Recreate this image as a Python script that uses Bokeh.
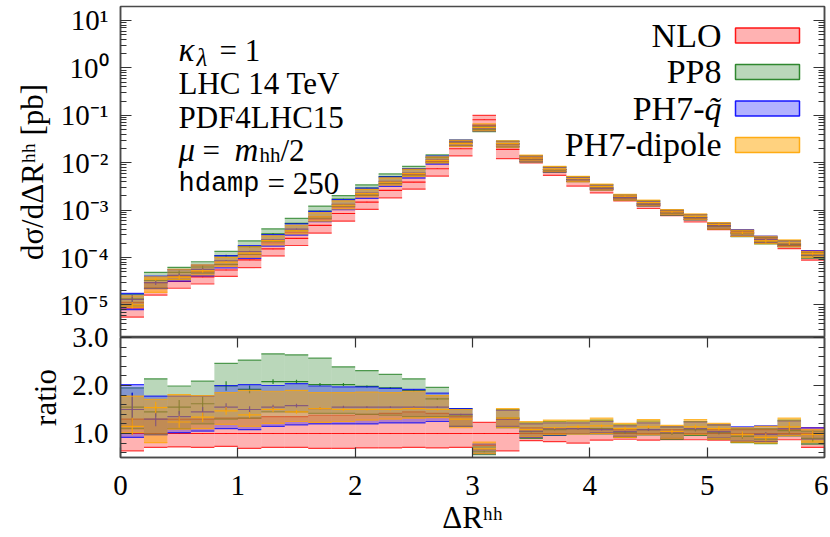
import numpy as np
from bokeh.plotting import figure
from bokeh.layouts import column
from bokeh.models import (LogAxis, LinearAxis, FixedTicker, CustomJSTickFormatter,
                          PrintfTickFormatter, Label, ColumnDataSource, Range1d, BoxAnnotation)
from bokeh.embed import file_html
from bokeh.resources import INLINE

# ---------------- data ----------------
bin_edges = [0.0, 0.2, 0.4, 0.6, 0.8, 1.0, 1.2, 1.4, 1.6, 1.8, 2.0, 2.2, 2.4, 2.6, 2.8, 3.0,
             3.2, 3.4, 3.6, 3.8, 4.0, 4.2, 4.4, 4.6, 4.8, 5.0, 5.2, 5.4, 5.6, 5.8, 6.0]

# NLO central value dsigma/dDeltaR [pb]
nlo_central = [8.7e-6, 2.28e-5, 3.13e-5, 3.9e-5, 5.47e-5, 8.9e-5, 1.52e-4, 2.53e-4, 4.75e-4, 8.5e-4,
               1.48e-3, 2.6e-3, 3.9e-3, 7.46e-3, 1.97e-2, 8.07e-2, 1.91e-2, 1.16e-2, 6.55e-3, 4.03e-3,
               2.69e-3, 1.79e-3, 1.26e-3, 8.8e-4, 6.46e-4, 4.53e-4, 3.39e-4, 2.45e-4, 1.78e-4, 1.24e-4]
nlo_lo = [0.64, 0.71, 0.72, 0.71, 0.73, 0.69, 0.71, 0.71, 0.69, 0.69, 0.70, 0.70, 0.71, 0.70, 0.71,
          0.75, 0.64, 0.85, 0.83, 0.80, 0.86, 0.88, 0.86, 0.87, 0.87, 0.86, 0.82, 0.83, 0.87, 0.71]
nlo_hi = [1.30, 1.30, 1.30, 1.30, 1.32, 1.32, 1.35, 1.35, 1.38, 1.38, 1.40, 1.42, 1.45, 1.42, 1.35,
          1.23, 1.30, 1.12, 1.10, 1.10, 1.10, 1.08, 1.08, 1.08, 1.08, 1.08, 1.08, 1.08, 1.08, 1.12]
nlo_err = [0.02, 0.01, 0.01, 0.01, 0.01, 0.01, 0.01, 0.01, 0.01, 0.01, 0.01, 0.01, 0.01, 0.01, 0.01,
           0.01, 0.01, 0.01, 0.01, 0.01, 0.01, 0.01, 0.01, 0.01, 0.01, 0.01, 0.01, 0.01, 0.01, 0.01]

# ratios to NLO central
pp8_c = [1.55, 1.45, 1.55, 1.62, 1.99, 1.92, 2.08, 2.08, 2.02, 2.02, 1.98, 1.95, 1.90, 1.72, 1.38,
         0.62, 1.32, 1.04, 1.08, 1.10, 1.10, 1.02, 1.08, 1.00, 1.08, 1.02, 0.94, 0.88, 1.06, 0.90]
pp8_lo = [1.10, 0.98, 1.10, 1.20, 1.30, 1.32, 1.45, 1.45, 1.42, 1.42, 1.40, 1.38, 1.35, 1.35, 1.15,
          0.56, 1.12, 0.90, 0.96, 0.99, 0.99, 0.92, 0.97, 0.88, 0.96, 0.89, 0.81, 0.79, 0.95, 0.78]
pp8_hi = [1.95, 2.14, 1.99, 2.09, 2.46, 2.53, 2.66, 2.64, 2.57, 2.39, 2.31, 2.23, 2.14, 1.96, 1.52,
          0.72, 1.50, 1.22, 1.25, 1.26, 1.28, 1.18, 1.26, 1.14, 1.25, 1.18, 1.10, 1.10, 1.28, 1.05]
pp8_err = [0.30, 0.10, 0.15, 0.15, 0.10, 0.08, 0.05, 0.04, 0.03, 0.03, 0.02, 0.02, 0.02, 0.02, 0.01,
           0.01, 0.01, 0.02, 0.02, 0.02, 0.02, 0.03, 0.03, 0.03, 0.04, 0.04, 0.05, 0.05, 0.06, 0.07]

ph7q_c = [1.50, 1.30, 1.35, 1.45, 1.55, 1.50, 1.55, 1.58, 1.52, 1.55, 1.55, 1.55, 1.55, 1.55, 1.40,
          0.66, 1.30, 1.05, 1.10, 1.10, 1.08, 1.04, 1.08, 1.02, 1.10, 1.04, 0.98, 0.98, 1.10, 0.98]
ph7q_lo = [0.92, 0.97, 1.02, 1.05, 1.10, 1.08, 1.15, 1.18, 1.20, 1.20, 1.20, 1.22, 1.22, 1.25, 1.15,
           0.58, 1.15, 0.92, 0.97, 1.00, 1.02, 0.94, 0.98, 0.90, 0.98, 0.91, 0.84, 0.83, 0.97, 0.88]
ph7q_hi = [2.02, 1.78, 1.78, 1.78, 2.00, 2.02, 2.00, 2.04, 1.99, 1.97, 1.97, 1.94, 1.92, 1.84, 1.52,
           0.78, 1.48, 1.20, 1.22, 1.22, 1.25, 1.16, 1.22, 1.14, 1.24, 1.18, 1.14, 1.16, 1.26, 1.12]
ph7q_err = [0.35, 0.15, 0.12, 0.10, 0.08, 0.07, 0.05, 0.04, 0.03, 0.03, 0.02, 0.02, 0.02, 0.02, 0.01,
            0.01, 0.01, 0.02, 0.02, 0.02, 0.02, 0.03, 0.03, 0.03, 0.04, 0.04, 0.05, 0.05, 0.06, 0.09]

ph7d_c = [1.15, 1.54, 1.24, 1.34, 1.47, 1.39, 1.50, 1.45, 1.52, 1.50, 1.50, 1.50, 1.52, 1.50, 1.30,
          0.68, 1.32, 1.08, 1.12, 1.14, 1.16, 1.10, 1.14, 1.04, 1.14, 1.10, 0.98, 0.92, 1.14, 0.98]
ph7d_lo = [1.02, 0.81, 1.09, 1.10, 1.19, 1.15, 1.21, 1.25, 1.23, 1.25, 1.28, 1.30, 1.32, 1.33, 1.12,
           0.58, 1.12, 0.93, 0.98, 0.99, 1.00, 0.92, 0.98, 0.90, 0.98, 0.89, 0.82, 0.80, 0.96, 0.82]
ph7d_hi = [1.78, 1.71, 1.81, 1.79, 1.85, 1.90, 1.88, 1.90, 1.85, 1.85, 1.86, 1.85, 1.88, 1.79, 1.50,
           0.82, 1.52, 1.25, 1.28, 1.28, 1.32, 1.21, 1.29, 1.17, 1.29, 1.21, 1.12, 1.15, 1.32, 1.08]
ph7d_err = [0.18, 0.12, 0.12, 0.10, 0.08, 0.06, 0.05, 0.04, 0.03, 0.03, 0.02, 0.02, 0.02, 0.02, 0.01,
            0.01, 0.01, 0.02, 0.02, 0.03, 0.03, 0.04, 0.03, 0.04, 0.04, 0.05, 0.06, 0.08, 0.10, 0.08]

series_names = ["NLO", "PP8", "PH7-q\u0303", "PH7-dipole"]
series_colors = ["#ff0000", "#1c7c1c", "#0000ff", "#ffa500"]
series_alpha = [0.3, 0.3, 0.3, 0.5]

x_ticks = [0, 1, 2, 3, 4, 5, 6]
decade_ticks = [1e-5, 1e-4, 1e-3, 1e-2, 1e-1, 1e0, 1e1]
ratio_ticks = [1.0, 2.0, 3.0]
ratio_minor = [0.6, 0.8, 1.2, 1.4, 1.6, 1.8, 2.2, 2.4, 2.6, 2.8]

# ---------------- style ----------------
SERIF = "Liberation Serif"
TICK_FS = "29px"
FRAME_COL = "#4a4a4a"
OVERLAP = 18

edges = np.array(bin_edges)
left, right = edges[:-1], edges[1:]
mid = 0.5 * (left + right)
nlo = np.array(nlo_central)

ratio_sets = [
    (np.ones(30), np.array(nlo_lo), np.array(nlo_hi), np.array(nlo_err)),
    (np.array(pp8_c), np.array(pp8_lo), np.array(pp8_hi), np.array(pp8_err)),
    (np.array(ph7q_c), np.array(ph7q_lo), np.array(ph7q_hi), np.array(ph7q_err)),
    (np.array(ph7d_c), np.array(ph7d_lo), np.array(ph7d_hi), np.array(ph7d_err)),
]

XR = Range1d(0, 6)
p1 = figure(width=828, height=337, x_range=XR,
            y_range=Range1d(10 ** -5.686, 10 ** 1.295), y_axis_type="log",
            x_axis_location=None, output_backend="svg", toolbar_location=None,
            min_border_left=120, min_border_right=4, min_border_top=6, min_border_bottom=0)
p2 = figure(width=828, height=218, x_range=XR, y_range=Range1d(0.5, 3.0),
            output_backend="svg", toolbar_location=None,
            min_border_left=120, min_border_right=4, min_border_top=OVERLAP, min_border_bottom=0)
p2.styles = {"margin-top": "-%dpx" % OVERLAP}

for p in (p1, p2):
    p.xgrid.visible = False
    p.ygrid.visible = False
    p.outline_line_color = FRAME_COL
    p.outline_line_width = 1.5
    p.background_fill_color = "white"
p2.border_fill_alpha = 0.0

def draw(p, scale):
    for (c, lo, hi, err), col, a in zip(ratio_sets, series_colors, series_alpha):
        src = ColumnDataSource(dict(l=left, r=right, x=mid,
                                    c=c * scale, lo=lo * scale, hi=hi * scale,
                                    elo=(c - err) * scale, ehi=(c + err) * scale))
        p.quad(left="l", right="r", bottom="lo", top="hi", source=src,
               fill_color=col, fill_alpha=a, line_color=None)
        for key in ("lo", "hi"):
            p.segment(x0="l", x1="r", y0=key, y1=key, source=src,
                      line_color=col, line_width=1.2, line_alpha=0.75)
        p.segment(x0="l", x1="r", y0="c", y1="c", source=src,
                  line_color=col, line_width=1.2, line_alpha=0.9)
        p.segment(x0="x", x1="x", y0="elo", y1="ehi", source=src,
                  line_color=col, line_width=1.2, line_alpha=0.9)

draw(p1, nlo)
draw(p2, np.ones(30))

# ---------------- axes ----------------
log_fmt = CustomJSTickFormatter(code="""
const sup = {"-":"\\u207b","0":"\\u2070","1":"\\u00b9","2":"\\u00b2","3":"\\u00b3","4":"\\u2074",
             "5":"\\u2075","6":"\\u2076","7":"\\u2077","8":"\\u2078","9":"\\u2079"};
const e = Math.round(Math.log10(tick));
return "10" + String(e).split("").map(c => sup[c]).join("");
""")
blank_fmt = CustomJSTickFormatter(code="return ' ';")
log_minor = [m * d for d in [1e-6, 1e-5, 1e-4, 1e-3, 1e-2, 1e-1, 1e0, 1e1] for m in range(2, 10)]
log_ticker = FixedTicker(ticks=decade_ticks, minor_ticks=log_minor)
ratio_ticker = FixedTicker(ticks=ratio_ticks, minor_ticks=ratio_minor)
x_ticker = FixedTicker(ticks=x_ticks, minor_ticks=[])

def style_axis(ax, labels=True):
    ax.major_tick_in = 11
    ax.major_tick_out = 0
    ax.minor_tick_in = 6
    ax.minor_tick_out = 0
    ax.major_tick_line_color = "#333333"
    ax.minor_tick_line_color = "#333333"
    ax.major_tick_line_width = 1.2
    ax.minor_tick_line_width = 1
    ax.axis_line_color = FRAME_COL
    ax.axis_line_width = 1.5
    if labels:
        ax.major_label_text_font = SERIF
        ax.major_label_text_font_size = TICK_FS
        ax.major_label_text_color = "black"
        ax.axis_label_text_font = SERIF
        ax.axis_label_text_font_size = "31px"
        ax.axis_label_text_font_style = "normal"
        ax.axis_label_text_color = "black"
    else:
        ax.formatter = blank_fmt
        ax.major_label_text_font_size = "2px"
        ax.major_label_standoff = 0

ly = p1.yaxis[0]
ly.ticker = log_ticker
ly.formatter = log_fmt
ly.axis_label = "d\u03c3/d\u0394R\u02b0\u02b0 [pb]"
style_axis(ly)
ly.major_label_standoff = 12
ly.axis_label_standoff = 6
r1 = LogAxis(ticker=log_ticker)
style_axis(r1, labels=False)
p1.add_layout(r1, "right")

ry2 = p2.yaxis[0]
ry2.ticker = ratio_ticker
ry2.formatter = PrintfTickFormatter(format="%.1f")
ry2.axis_label = "ratio"
style_axis(ry2)
ry2.major_label_standoff = 12
ry2.axis_label_standoff = 6
r2 = LinearAxis(ticker=ratio_ticker)
style_axis(r2, labels=False)
p2.add_layout(r2, "right")

bx = p2.xaxis[0]
bx.ticker = x_ticker
bx.axis_label = "\u0394R\u02b0\u02b0"
style_axis(bx)
bx.major_tick_in = 10
bx.major_label_standoff = 18
bx.axis_label_standoff = 2
ax2 = LinearAxis(ticker=x_ticker)
style_axis(ax2, labels=False)
ax2.major_tick_in = 10
p2.add_layout(ax2, "above")

# ---------------- annotations (positions in reference pixels -> data) ----------------
def rx(px):
    return (px - 120.0) / 704.0 * 6.0

def ryl(py):
    return 10 ** (-5 + (304.5 - py) / 47.4)

def lab(px, py, text, size="31px", style="normal", font=SERIF, align="left", base="alphabetic"):
    p1.add_layout(Label(x=rx(px), y=ryl(py), text=text, text_font=font, text_font_size=size,
                        text_font_style=style, text_align=align, text_baseline=base,
                        text_color="black"))

lab(178, 50, "\u03ba", size="33px", style="italic")
lab(196, 57, "\u03bb", size="25px", style="italic")
lab(219, 50, "= 1")
lab(178, 83.3, "LHC 14 TeV")
lab(178, 116.7, "PDF4LHC15")
lab(178, 150, "\u03bc", size="33px", style="italic")
lab(202, 150, "=")
lab(234, 150, "m", size="33px", style="italic")
lab(259, 155, "hh", size="21px")
lab(280, 150, "/2")
lab(178, 183.3, "hdamp", size="27px", font="Liberation Mono")
lab(267, 183.3, "= 250")

# legend (labels left of swatches)
leg_y = [35, 71.5, 108, 144.5]
for name, col, a, yc in zip(series_names, series_colors, series_alpha, leg_y):
    if name.startswith("PH7-q"):
        lab(721, yc, "q\u0303", size="34px", style="italic", align="right", base="middle")
        lab(704, yc, "PH7-", size="34px", align="right", base="middle")
    else:
        lab(721, yc, name, size="34px", align="right", base="middle")
    p1.add_layout(BoxAnnotation(left=rx(735), right=rx(799), bottom=ryl(yc + 7.5), top=ryl(yc - 7.5),
                                fill_color=col, fill_alpha=a, line_color=col, line_width=1.5,
                                line_alpha=0.9))

layout = column(p1, p2, spacing=0)
open("out.html", "w").write(file_html(layout, INLINE))
